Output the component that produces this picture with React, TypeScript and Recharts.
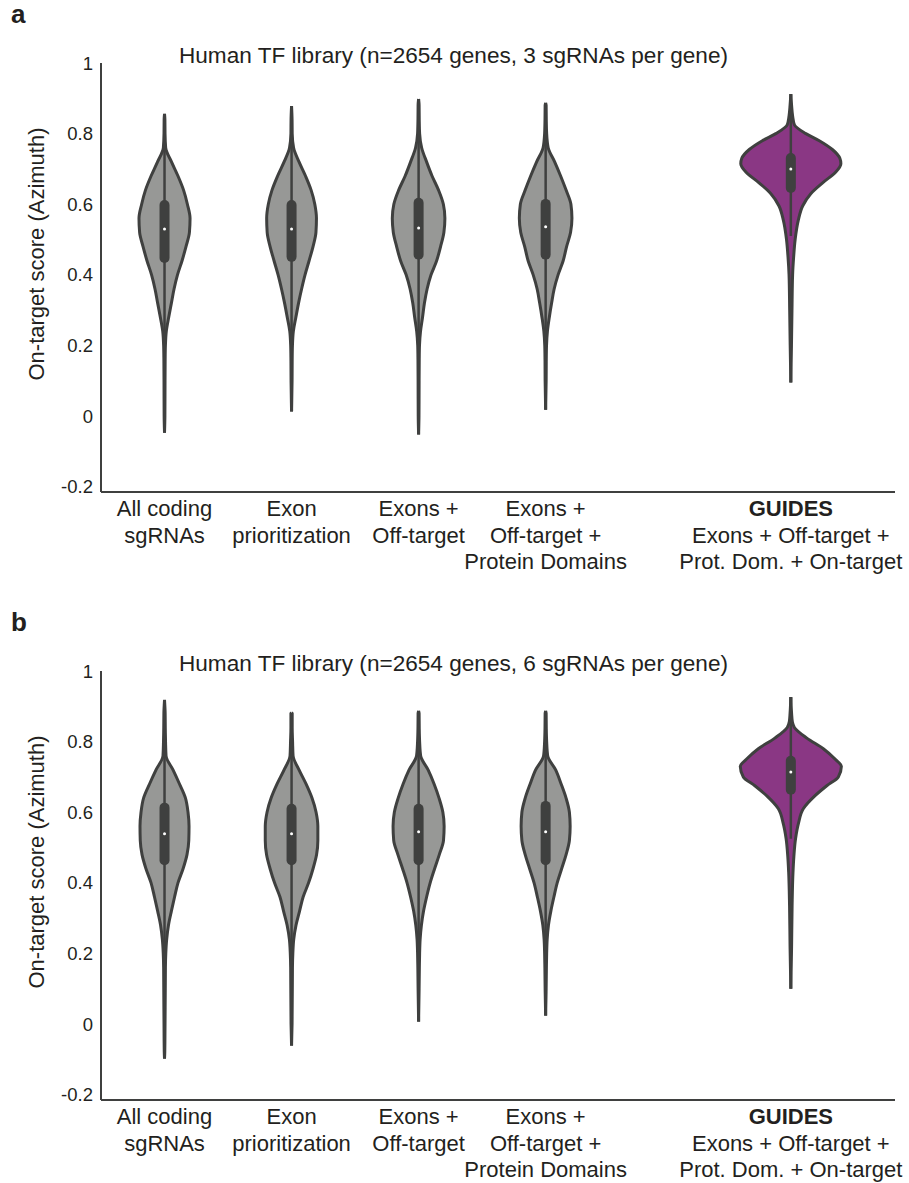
import React from 'react';
import { ComposedChart, Area, Line, XAxis, YAxis } from 'recharts';

// category positions along the x axis (GUIDES sits apart from the others)
const POSITIONS = [1, 2, 3, 4, 5.93];
const CATEGORY_LINES = [
  ['All coding', 'sgRNAs'],
  ['Exon', 'prioritization'],
  ['Exons +', 'Off-target'],
  ['Exons +', 'Off-target +', 'Protein Domains'],
  ['GUIDES', 'Exons + Off-target +', 'Prot. Dom. + On-target'],
];
const Y_TICKS = [-0.2, 0, 0.2, 0.4, 0.6, 0.8, 1];

// score levels at which the gray violins' half widths were read
const GRAY_LEVELS = [0.88, 0.84, 0.8, 0.76, 0.72, 0.68, 0.64, 0.6, 0.56, 0.52, 0.48, 0.44, 0.4, 0.36, 0.32, 0.28, 0.24, 0.2, 0.16, 0.1, 0, -0.08];

// panel a (3 sgRNAs per gene), half widths in category units
const A_ALL_CODING = [null, 0.003, 0.004, 0.009, 0.055, 0.106, 0.15, 0.18, 0.201, 0.196, 0.169, 0.138, 0.102, 0.075, 0.054, 0.033, 0.014, 0.007, 0.005, 0.004, 0.003, null];
const A_EXON = [null, 0.004, 0.005, 0.016, 0.059, 0.11, 0.154, 0.183, 0.196, 0.192, 0.169, 0.138, 0.106, 0.079, 0.055, 0.034, 0.014, 0.007, 0.005, 0.004, null, null];
const A_OFF_TARGET = [0.004, 0.005, 0.008, 0.024, 0.063, 0.106, 0.157, 0.195, 0.207, 0.199, 0.173, 0.142, 0.098, 0.067, 0.046, 0.031, 0.015, 0.007, 0.005, 0.004, 0.003, null];
const A_DOMAINS = [0.004, 0.005, 0.008, 0.02, 0.071, 0.118, 0.161, 0.199, 0.207, 0.196, 0.165, 0.138, 0.098, 0.067, 0.047, 0.029, 0.014, 0.007, 0.005, 0.004, null, null];
const A_GUIDES_LEVELS = [0.88, 0.85, 0.825, 0.8, 0.78, 0.755, 0.73, 0.715, 0.69, 0.66, 0.63, 0.595, 0.555, 0.5, 0.45, 0.4, 0.3, 0.2];
const A_GUIDES = [0.006, 0.014, 0.028, 0.118, 0.224, 0.327, 0.386, 0.394, 0.35, 0.248, 0.157, 0.093, 0.059, 0.034, 0.022, 0.014, 0.009, 0.005];
const A_TIP_HIGH = [0.856, 0.878, 0.898, 0.887, 0.912];
const A_TIP_LOW = [-0.047, 0.013, -0.052, 0.018, 0.095];
const A_Q1 = [0.448, 0.451, 0.457, 0.457, 0.646];
const A_Q3 = [0.598, 0.598, 0.604, 0.601, 0.731];
const A_MEDIAN = [0.53, 0.53, 0.533, 0.536, 0.7];
const A_WHISKER_LOW = [0.17, 0.19, 0.18, 0.19, 0.51];

// panel b (6 sgRNAs per gene)
const B_ALL_CODING = [0.005, 0.006, 0.008, 0.012, 0.067, 0.118, 0.165, 0.185, 0.193, 0.191, 0.177, 0.146, 0.106, 0.079, 0.054, 0.031, 0.017, 0.01, 0.007, 0.006, 0.004, 0.002];
const B_EXON = [0.005, 0.005, 0.008, 0.012, 0.059, 0.114, 0.161, 0.193, 0.207, 0.207, 0.197, 0.169, 0.134, 0.091, 0.063, 0.035, 0.017, 0.01, 0.007, 0.006, 0.004, null];
const B_OFF_TARGET = [0.004, 0.005, 0.008, 0.016, 0.075, 0.122, 0.161, 0.191, 0.201, 0.196, 0.163, 0.126, 0.091, 0.063, 0.039, 0.022, 0.012, 0.008, 0.006, 0.004, null, null];
const B_DOMAINS = [0.004, 0.005, 0.008, 0.016, 0.079, 0.122, 0.161, 0.187, 0.193, 0.187, 0.161, 0.126, 0.091, 0.065, 0.041, 0.022, 0.012, 0.008, 0.006, 0.004, null, null];
const B_GUIDES_LEVELS = [0.88, 0.856, 0.84, 0.81, 0.78, 0.75, 0.73, 0.7, 0.675, 0.645, 0.61, 0.57, 0.525, 0.475, 0.43, 0.335, 0.22];
const B_GUIDES = [0.006, 0.012, 0.028, 0.126, 0.256, 0.35, 0.398, 0.374, 0.283, 0.185, 0.098, 0.061, 0.037, 0.024, 0.017, 0.01, 0.006];
const B_TIP_HIGH = [0.918, 0.881, 0.887, 0.887, 0.926];
const B_TIP_LOW = [-0.098, -0.061, 0.007, 0.024, 0.1];
const B_Q1 = [0.464, 0.464, 0.464, 0.464, 0.664];
const B_Q3 = [0.613, 0.61, 0.61, 0.618, 0.746];
const B_MEDIAN = [0.539, 0.539, 0.545, 0.545, 0.714];
const B_WHISKER_LOW = [0.18, 0.18, 0.19, 0.19, 0.525];

const GRAY = '#979896';
const PURPLE = '#8a3784';
const OUTLINE = '#3f403f';
const TEXT = '#231f20';
const FONT = '"Liberation Sans", Arial, Helvetica, sans-serif';

const violinRows = (pos: number, levels: number[], widths: (number | null)[], high: number, low: number) => {
  const rows: any[] = [{ y: high, range: [pos, pos] }];
  levels.forEach((lv, i) => {
    const w = widths[i];
    if (w == null || lv >= high || lv <= low) return;
    rows.push({ y: lv, range: [pos - w, pos + w] });
  });
  rows.push({ y: low, range: [pos, pos] });
  return rows;
};

const CategoryTick = (props: any) => {
  const { x, y, payload } = props;
  let idx = 0;
  POSITIONS.forEach((p, i) => {
    if (Math.abs(p - payload.value) < Math.abs(POSITIONS[idx] - payload.value)) idx = i;
  });
  const lines = CATEGORY_LINES[idx];
  return (
    <text x={x} y={y} textAnchor="middle" fontSize={22} fill={TEXT} fontFamily={FONT}>
      {lines.map((l, i) => (
        <tspan key={i} x={x} dy={i === 0 ? 16 : 26.5} fontWeight={idx === 4 && i === 0 ? 'bold' : 'normal'}>
          {l}
        </tspan>
      ))}
    </text>
  );
};

interface PanelProps {
  top: number;
  letter: string;
  title: string;
  grayWidths: (number | null)[][];
  guidesLevels: number[];
  guidesWidths: number[];
  tipHigh: number[];
  tipLow: number[];
  q1: number[];
  q3: number[];
  median: number[];
  whiskerLow: number[];
}

const Panel: React.FC<PanelProps> = (p) => {
  const violins = POSITIONS.map((pos, i) =>
    i < 4
      ? violinRows(pos, GRAY_LEVELS, p.grayWidths[i], p.tipHigh[i], p.tipLow[i])
      : violinRows(pos, p.guidesLevels, p.guidesWidths, p.tipHigh[i], p.tipLow[i])
  );

  return (
    <div style={{ position: 'absolute', left: 0, top: p.top, width: 909, height: 600 }}>
      <div style={{ position: 'absolute', left: 11, top: 1, fontSize: 26, lineHeight: '26px', fontWeight: 'bold', color: TEXT }}>
        {p.letter}
      </div>
      <div style={{ position: 'absolute', left: 0, top: 45, width: 907, textAlign: 'center', fontSize: 22.6, lineHeight: '22px', color: TEXT }}>
        {p.title}
      </div>
      <div
        style={{
          position: 'absolute', left: 37 - 200, top: 254 - 11, width: 400, textAlign: 'center',
          fontSize: 22, lineHeight: '22px', color: TEXT, transform: 'rotate(-90deg)', transformOrigin: 'center center',
        }}
      >
        On-target score (Azimuth)
      </div>
      <ComposedChart layout="vertical" width={909} height={600} margin={{ top: 63, right: 14, bottom: 18, left: 0 }}>
        <XAxis
          type="number"
          domain={[0.5, 6.75]}
          ticks={POSITIONS}
          interval={0}
          allowDataOverflow
          tickLine={false}
          axisLine={{ stroke: OUTLINE, strokeWidth: 2 }}
          height={90}
          tick={<CategoryTick />}
        />
        <YAxis
          type="number"
          dataKey="y"
          domain={[-0.215, 1]}
          ticks={Y_TICKS}
          interval={0}
          reversed
          allowDataOverflow
          tickLine={false}
          axisLine={{ stroke: OUTLINE, strokeWidth: 2 }}
          width={101}
          tick={{ fontSize: 18.5, fill: TEXT }}
        />
        {violins.map((rows, i) => (
          <Area
            key={`violin-${i}`}
            data={rows}
            dataKey="range"
            type="monotone"
            fill={i === 4 ? PURPLE : GRAY}
            fillOpacity={1}
            stroke={OUTLINE}
            strokeWidth={3}
            dot={false}
            activeDot={false}
            isAnimationActive={false}
          />
        ))}
        {POSITIONS.map((pos, i) => (
          <Line
            key={`whisker-${i}`}
            data={[{ y: p.tipHigh[i], pos }, { y: p.whiskerLow[i], pos }]}
            dataKey="pos"
            stroke={OUTLINE}
            strokeWidth={2.5}
            dot={false}
            activeDot={false}
            isAnimationActive={false}
          />
        ))}
        {POSITIONS.map((pos, i) => (
          <Line
            key={`box-${i}`}
            data={[{ y: p.q3[i], pos }, { y: p.q1[i], pos }]}
            dataKey="pos"
            stroke={OUTLINE}
            strokeWidth={10}
            strokeLinecap="round"
            dot={false}
            activeDot={false}
            isAnimationActive={false}
          />
        ))}
        {POSITIONS.map((pos, i) => (
          <Line
            key={`median-${i}`}
            data={[{ y: p.median[i], pos }]}
            dataKey="pos"
            stroke="none"
            dot={{ r: 1.5, fill: '#ffffff', stroke: 'none' }}
            activeDot={false}
            isAnimationActive={false}
          />
        ))}
      </ComposedChart>
    </div>
  );
};

export default function App() {
  return (
    <div style={{ position: 'absolute', left: 0, top: 0, width: 909, height: 1183, background: '#fff', fontFamily: FONT }}>
      <Panel
        top={0}
        letter="a"
        title="Human TF library (n=2654 genes, 3 sgRNAs per gene)"
        grayWidths={[A_ALL_CODING, A_EXON, A_OFF_TARGET, A_DOMAINS]}
        guidesLevels={A_GUIDES_LEVELS}
        guidesWidths={A_GUIDES}
        tipHigh={A_TIP_HIGH}
        tipLow={A_TIP_LOW}
        q1={A_Q1}
        q3={A_Q3}
        median={A_MEDIAN}
        whiskerLow={A_WHISKER_LOW}
      />
      <Panel
        top={608}
        letter="b"
        title="Human TF library (n=2654 genes, 6 sgRNAs per gene)"
        grayWidths={[B_ALL_CODING, B_EXON, B_OFF_TARGET, B_DOMAINS]}
        guidesLevels={B_GUIDES_LEVELS}
        guidesWidths={B_GUIDES}
        tipHigh={B_TIP_HIGH}
        tipLow={B_TIP_LOW}
        q1={B_Q1}
        q3={B_Q3}
        median={B_MEDIAN}
        whiskerLow={B_WHISKER_LOW}
      />
    </div>
  );
}
